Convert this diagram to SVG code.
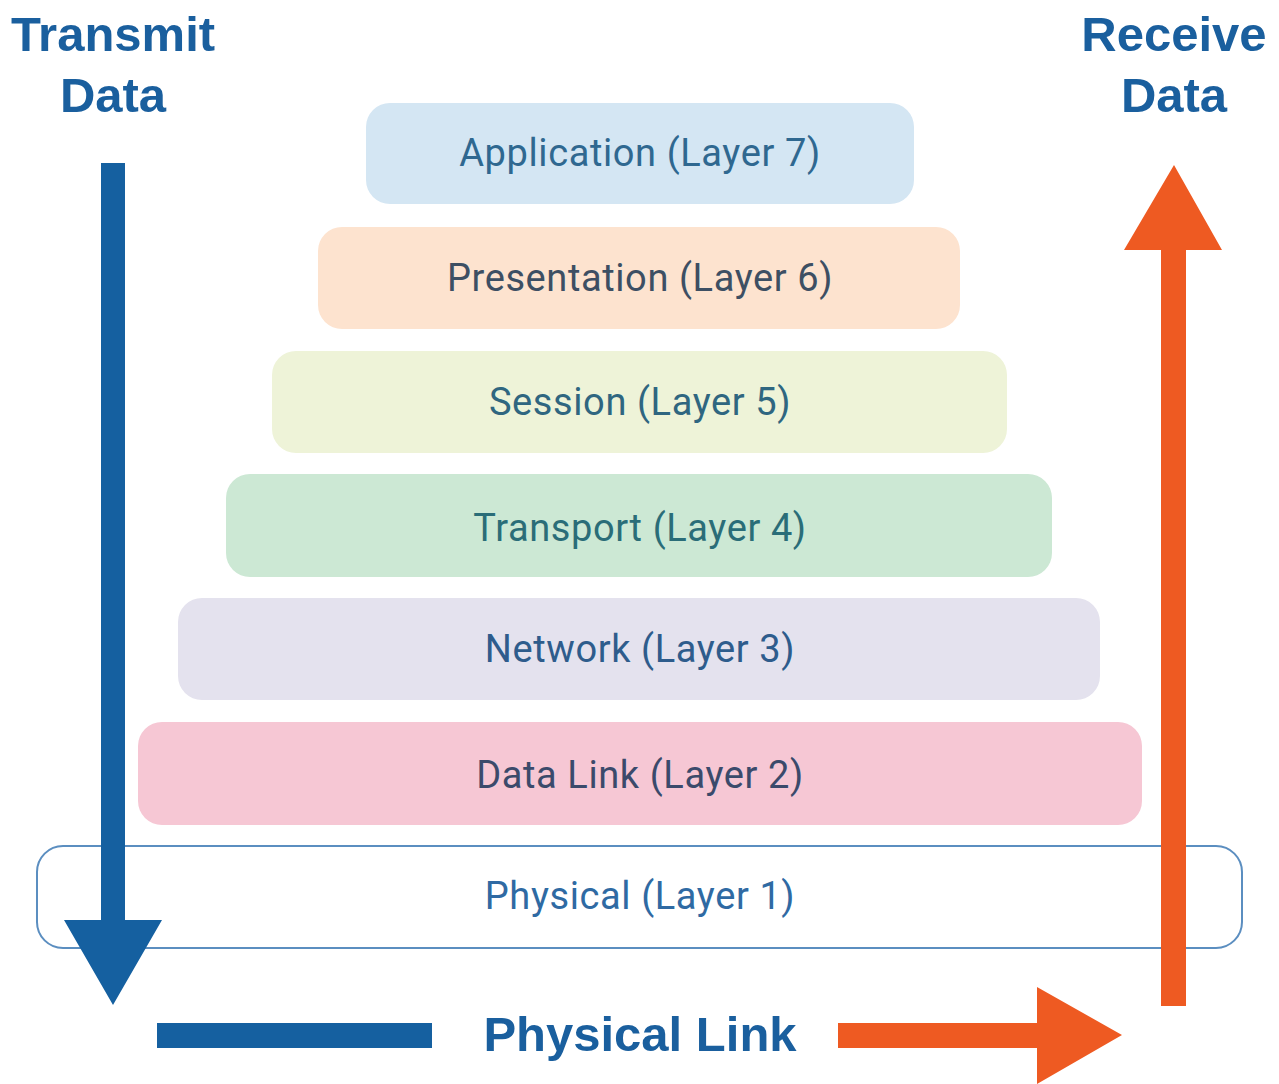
<svg xmlns="http://www.w3.org/2000/svg" width="1279" height="1084" viewBox="0 0 1279 1084">
<style>
.box{stroke:none}
.lbl{font-family:Roboto,"Liberation Sans",sans-serif;font-size:38px;letter-spacing:0.6px;text-anchor:middle;dominant-baseline:central}
.ttl{font-family:"Liberation Sans",Arial,sans-serif;font-weight:bold;font-size:49px;fill:#1a5f9e;text-anchor:middle}
</style>
<rect width="1279" height="1084" fill="#ffffff"/>
<g id="title-transmit"><text class="ttl" x="113" y="51">Transmit</text><text class="ttl" x="113" y="112">Data</text></g>
<g id="title-receive"><text class="ttl" x="1174" y="51">Receive</text><text class="ttl" x="1174" y="112">Data</text></g>
<g id="layer7"><rect class="box" x="366" y="103" width="548" height="101" rx="24" fill="#d4e6f3"/><text class="lbl" x="640" y="153" fill="#2f6890">Application (Layer 7)</text></g>
<g id="layer6"><rect class="box" x="318" y="227" width="642" height="102" rx="24" fill="#fde3cf"/><text class="lbl" x="640" y="278" fill="#3d4f63">Presentation (Layer 6)</text></g>
<g id="layer5"><rect class="box" x="272" y="351" width="735" height="102" rx="24" fill="#eef3d8"/><text class="lbl" x="640" y="402" fill="#2f6680">Session (Layer 5)</text></g>
<g id="layer4"><rect class="box" x="226" y="474" width="826" height="103" rx="24" fill="#cce8d4"/><text class="lbl" x="640" y="528" fill="#2a6d78">Transport (Layer 4)</text></g>
<g id="layer3"><rect class="box" x="178" y="598" width="922" height="102" rx="24" fill="#e4e2ee"/><text class="lbl" x="640" y="649" fill="#2e5c8c">Network (Layer 3)</text></g>
<g id="layer2"><rect class="box" x="138" y="722" width="1004" height="103" rx="24" fill="#f6c7d4"/><text class="lbl" x="640" y="775" fill="#3b4a6b">Data Link (Layer 2)</text></g>
<g id="layer1"><rect x="37" y="846" width="1205" height="102" rx="26" fill="#ffffff" stroke="#5b8ec0" stroke-width="2"/><text class="lbl" x="640" y="896" fill="#2f6aa3">Physical (Layer 1)</text></g>
<g id="connectors">
<polygon id="transmit-arrow" fill="#1560a0" points="101,163 125,163 125,920 162,920 113,1005 64,920 101,920"/>
<rect id="link-bar" x="157" y="1023" width="275" height="25" fill="#1560a0"/>
<polygon id="link-arrow" fill="#ee5a22" points="838,1023 1037,1023 1037,987 1122,1035 1037,1084 1037,1048 838,1048"/>
<polygon id="receive-arrow" fill="#ee5a22" points="1161,1006 1186,1006 1186,250 1222,250 1174,165 1124,250 1161,250"/>
</g>
<g id="physical-link-label"><text class="ttl" x="640" y="1051" font-size="46">Physical Link</text></g>
</svg>
